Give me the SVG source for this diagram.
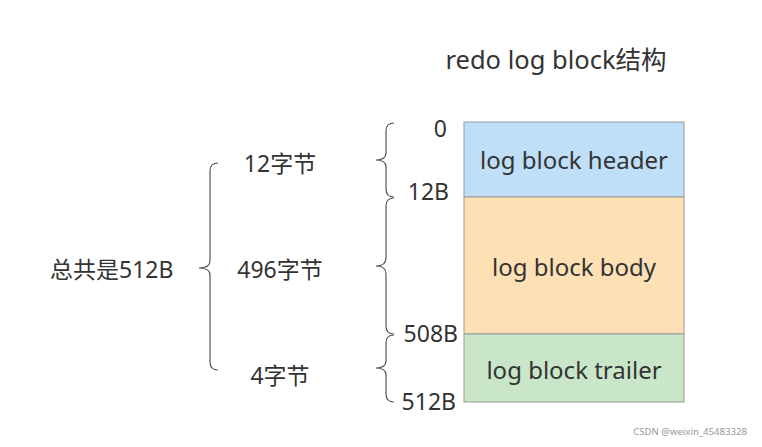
<svg xmlns="http://www.w3.org/2000/svg" width="762" height="447" viewBox="0 0 762 447">
<style>
text{font-family:"Noto Sans","Noto Sans CJK SC",sans-serif;fill:#333;}
.t{font-size:24px;text-anchor:middle;}
.l{font-size:23px;}
.brace{fill:none;stroke:#555;stroke-width:1.2;}
.box{stroke:#999;stroke-width:1;}
</style>
<rect width="762" height="447" fill="#fff"/>
<text x="556" y="69" style="font-size:25.5px;text-anchor:middle">redo log block结构</text>
<g id="header"><rect class="box" x="464" y="122" width="220" height="75" fill="#bfdef8"/><text class="t" x="574" y="169">log block header</text></g>
<g id="body"><rect class="box" x="464" y="197" width="220" height="137" fill="#fde0b4"/><text class="t" x="574" y="276">log block body</text></g>
<g id="trailer"><rect class="box" x="464" y="334" width="220" height="68" fill="#c9e6c9"/><text class="t" x="574" y="379">log block trailer</text></g>
<g id="connectors">
<path class="brace" d="M394,123 Q386,123 386,131 L386,153 Q386,160 376,160 Q386,160 386,167 L386,189 Q386,197 394,197"/>
<path class="brace" d="M394,198 Q386,198 386,206 L386,258 Q386,266 376,266 Q386,266 386,274 L386,326 Q386,334 394,334"/>
<path class="brace" d="M394,335 Q386,335 386,343 L386,361 Q386,368 376,368 Q386,368 386,375 L386,394 Q386,402 394,402"/>
<path class="brace" d="M218,163 Q210,163 210,171 L210,261 Q210,268 199,268 Q210,268 210,275 L210,362 Q210,370 218,370"/>
</g>
<g id="labels">
<text class="l" x="447" y="137" text-anchor="end">0</text>
<text class="l" x="449" y="200" text-anchor="end">12B</text>
<text class="l" x="458" y="342" text-anchor="end">508B</text>
<text class="l" x="456" y="410" text-anchor="end">512B</text>
<text class="l" x="280" y="172" text-anchor="middle">12字节</text>
<text class="l" x="280" y="278" text-anchor="middle">496字节</text>
<text class="l" x="280" y="384" text-anchor="middle">4字节</text>
<text class="l" x="50" y="278">总共是512B</text>
</g>
<text x="747" y="435" style="font-size:9.6px;fill:#999;text-anchor:end">CSDN @weixin_45483328</text>
</svg>
